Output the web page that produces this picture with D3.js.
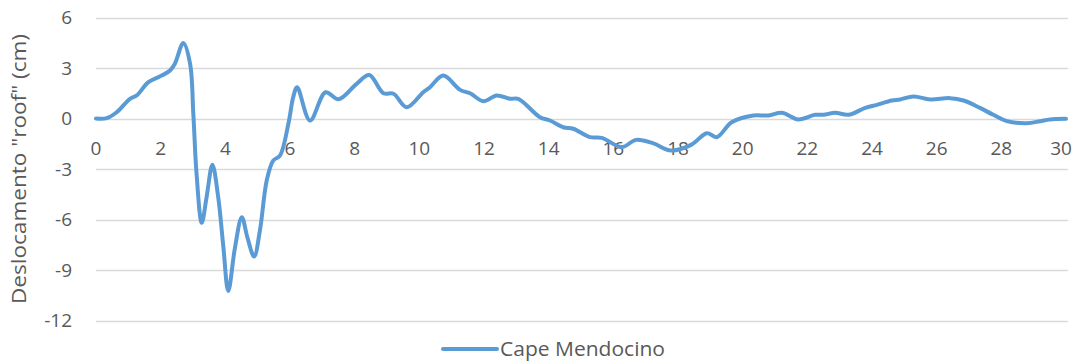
<!DOCTYPE html>
<html>
<head>
<meta charset="utf-8">
<script src="https://cdn.jsdelivr.net/npm/d3@7"></script>
<style>
  html, body { margin: 0; padding: 0; background: #fff; }
  svg { display: block; }
  text { font-family: "Open Sans", "Liberation Sans", sans-serif; fill: #595959; }
</style>
</head>
<body>
<svg id="chart" width="1085" height="363"></svg>
<script>
// Roof displacement time history (s, cm)
const timeSec = [0, 0.33, 0.64, 1.05, 1.26, 1.62, 2.03, 2.29, 2.44, 2.70, 2.91, 3.01, 3.11, 3.27, 3.42, 3.60, 3.78, 3.94, 4.09, 4.30, 4.51, 4.68, 4.89, 5.07, 5.28, 5.48, 5.69, 5.95, 6.10, 6.22, 6.62, 7.10, 7.50, 8.06, 8.45, 8.89, 9.20, 9.61, 10.12, 10.33, 10.74, 11.26, 11.57, 11.98, 12.39, 12.80, 13.06, 13.73, 14.04, 14.45, 14.76, 15.28, 15.64, 16.26, 16.70, 17.24, 17.78, 18.42, 18.89, 19.20, 19.66, 20.33, 20.80, 21.21, 21.72, 22.24, 22.50, 22.86, 23.27, 23.79, 24.15, 24.61, 24.87, 25.28, 25.80, 26.41, 26.83, 27.34, 27.75, 28.17, 28.79, 29.20, 29.50, 30.00];
const displacementCm = [0, 0.02, 0.37, 1.17, 1.37, 2.16, 2.55, 2.85, 3.25, 4.48, 3.25, 0.28, -3.29, -6.20, -4.68, -2.75, -4.68, -7.65, -10.25, -7.65, -5.86, -7.05, -8.20, -6.65, -3.68, -2.50, -2.20, -0.31, 1.27, 1.86, -0.12, 1.56, 1.14, 2.06, 2.58, 1.50, 1.47, 0.67, 1.56, 1.86, 2.55, 1.70, 1.50, 1.03, 1.37, 1.17, 1.17, 0.08, -0.12, -0.52, -0.61, -1.11, -1.15, -1.70, -1.27, -1.48, -1.90, -1.55, -0.87, -1.11, -0.22, 0.18, 0.18, 0.34, -0.06, 0.22, 0.22, 0.34, 0.22, 0.63, 0.81, 1.07, 1.13, 1.31, 1.13, 1.21, 1.07, 0.63, 0.22, -0.16, -0.28, -0.16, -0.06, -0.02];

const xTicks = [0, 2, 4, 6, 8, 10, 12, 14, 16, 18, 20, 22, 24, 26, 28, 30];
const yTicks = [6, 3, 0, -3, -6, -9, -12];
const seriesName = "Cape Mendocino";
const yAxisTitle = "Deslocamento \"roof\" (cm)";

const svg = d3.select("#chart");
const x = d3.scaleLinear().domain([0, 30]).range([96, 1066]);
const y = d3.scaleLinear().domain([-12, 6]).range([320.5, 17.5]);

// horizontal gridlines
svg.append("g")
  .selectAll("line")
  .data(yTicks)
  .join("line")
  .attr("x1", x(0))
  .attr("x2", x(30) + 2)
  .attr("y1", d => Math.round(y(d)) + 0.5)
  .attr("y2", d => Math.round(y(d)) + 0.5)
  .attr("stroke", "#d9d9d9")
  .attr("stroke-width", 1.5);

// y tick labels
svg.append("g")
  .selectAll("text")
  .data(yTicks)
  .join("text")
  .attr("x", 72)
  .attr("y", d => y(d))
  .attr("dy", "0.36em")
  .attr("text-anchor", "end")
  .attr("font-size", 19)
  .text(d => d);

// x tick labels sit just below the zero line
svg.append("g")
  .selectAll("text")
  .data(xTicks)
  .join("text")
  .attr("x", d => Math.min(x(d), 1061))
  .attr("y", y(0) + 30)
  .attr("dy", "0.36em")
  .attr("text-anchor", "middle")
  .attr("font-size", 19)
  .text(d => d);

// y axis title
svg.append("text")
  .attr("transform", `translate(26,${(y(6) + y(-12)) / 2}) rotate(-90)`)
  .attr("text-anchor", "middle")
  .attr("font-size", 20)
  .attr("textLength", 270)
  .attr("lengthAdjust", "spacingAndGlyphs")
  .text(yAxisTitle);

// displacement series
const data = timeSec.map((t, i) => [t, displacementCm[i]]);
svg.append("path")
  .datum(data)
  .attr("fill", "none")
  .attr("stroke", "#5b9bd5")
  .attr("stroke-width", 4)
  .attr("stroke-linejoin", "round")
  .attr("stroke-linecap", "round")
  .attr("d", d3.line().x(d => x(d[0])).y(d => y(d[1])).curve(d3.curveCatmullRom.alpha(0.5)));

// legend
const lg = svg.append("g").attr("transform", "translate(443,349)");
lg.append("line")
  .attr("x1", 0).attr("x2", 54)
  .attr("y1", 0).attr("y2", 0)
  .attr("stroke", "#5b9bd5")
  .attr("stroke-width", 4)
  .attr("stroke-linecap", "round");
lg.append("text")
  .attr("x", 57)
  .attr("y", 0)
  .attr("dy", "0.36em")
  .attr("font-size", 20)
  .attr("textLength", 165)
  .attr("lengthAdjust", "spacingAndGlyphs")
  .text(seriesName);
</script>
</body>
</html>
